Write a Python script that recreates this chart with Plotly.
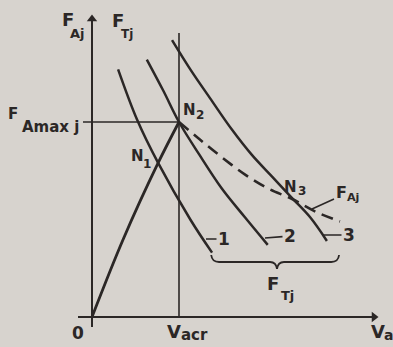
import plotly.graph_objects as go

# Traction / adhesion forces versus speed (units: V_acr = 1, F_Amax j = 1)
v_rise = [0.0, 0.36, 0.76, 1.0]          # adhesion limit F_Aj below V_acr
f_rise = [0.0, 0.40, 0.79, 1.0]

v_aj = [1.0, 1.24, 1.49, 1.76, 2.02, 2.30, 2.57, 2.85]   # adhesion F_Aj above V_acr (dashed)
f_aj = [1.0, 0.91, 0.82, 0.73, 0.66, 0.605, 0.54, 0.49]

v1 = [0.30, 0.52, 0.76, 1.13, 1.38]                        # traction characteristic 1
f1 = [1.27, 1.01, 0.79, 0.50, 0.33]
v2 = [0.63, 0.82, 1.0, 1.23, 1.49, 1.76, 2.02]             # traction characteristic 2
f2 = [1.32, 1.16, 1.0, 0.835, 0.66, 0.51, 0.37]
v3 = [0.92, 1.13, 1.36, 1.61, 1.84, 2.07, 2.30, 2.51, 2.70]  # traction characteristic 3
f3 = [1.42, 1.27, 1.12, 0.96, 0.83, 0.72, 0.61, 0.51, 0.39]

v_acr = 1.0
f_amax = 1.0
nodes = {"N1": (0.76, 0.79), "N2": (1.0, 1.0), "N3": (2.30, 0.61)}
curve_labels = ["1", "2", "3"]

W, H = 393, 347
X0, Y0 = 92, 317          # origin in page pixels
SX, SY = 87.0, 195.0      # pixels per unit

def dx(px):
    return (px - X0) / SX

def dy(py):
    return (Y0 - py) / SY

INK = "#2b2726"
BG = "#d7d3ce"
FONT = "DejaVu Sans"

fig = go.Figure()

def curve(x, y, width=2.5, dash="solid"):
    fig.add_trace(go.Scatter(x=x, y=y, mode="lines", line_shape="spline",
                             line=dict(color=INK, width=width, dash=dash),
                             hoverinfo="skip", showlegend=False))

curve(v_rise, f_rise, width=2.8)
curve(v1, f1)
curve(v2, f2)
curve(v3, f3)
curve(v_aj, f_aj, width=2.6, dash="12px,7px")

# reference lines at V_acr and F_Amax j
fig.add_shape(type="line", x0=v_acr, x1=v_acr, y0=0, y1=dy(33),
              line=dict(color=INK, width=1.6))
fig.add_shape(type="line", x0=dx(83), x1=v_acr, y0=f_amax, y1=f_amax,
              line=dict(color=INK, width=1.6))

# axes: lines plus arrowhead markers at their tips
fig.add_shape(type="line", x0=0, x1=0, y0=dy(327), y1=dy(20),
              line=dict(color=INK, width=2))
fig.add_shape(type="line", x0=dx(78), x1=dx(372), y0=0, y1=0,
              line=dict(color=INK, width=2))
fig.add_trace(go.Scatter(x=[0], y=[dy(19)], mode="markers",
                         marker=dict(symbol="triangle-up", size=9,
                                     color=INK, line=dict(width=0)),
                         hoverinfo="skip", showlegend=False))
fig.add_trace(go.Scatter(x=[dx(374)], y=[0], mode="markers",
                         marker=dict(symbol="triangle-right", size=9,
                                     color=INK, line=dict(width=0)),
                         hoverinfo="skip", showlegend=False))

def text(x, y, s, size, xshift=0, yshift=0, xanchor="center"):
    fig.add_annotation(x=x, y=y, xref="x", yref="y", text=s, showarrow=False,
                       xshift=xshift, yshift=yshift, xanchor=xanchor,
                       font=dict(family=FONT, size=size, color=INK, weight="bold"))

# axis labels
text(dx(68), dy(19), "F", 18)
text(dx(77), dy(33), "Aj", 13)
text(dx(118), dy(20), "F", 18)
text(dx(127), dy(34), "Tj", 12)
text(dx(13), dy(114), "F", 15)
text(dx(50), dy(127), "Amax j", 15)
text(dx(78), dy(333), "0", 17)
text(v_acr, dy(331), "V", 18, xshift=-5)
text(v_acr, dy(335), "acr", 15, xshift=15)
text(dx(369), dy(331), "V", 18, xanchor="left")
text(dx(382), dy(335), "a", 14, xanchor="left")

# operating points
node_offsets = {"N1": ((-21, 7), (-11, -1)),
                "N2": ((10, 12), (21, 7)),
                "N3": ((-2, 11), (10, 7))}
for name, (nx, ny) in nodes.items():
    (ax1, ay1), (ax2, ay2) = node_offsets[name]
    text(nx, ny, "N", 15, xshift=ax1, yshift=ay1)
    text(nx, ny, name[1], 12, xshift=ax2, yshift=ay2)

# leaders to curve numbers and F_Aj
def leader(x, y, s, ax, ay, size=17):
    fig.add_annotation(x=x, y=y, xref="x", yref="y", text=s, showarrow=True,
                       ax=ax, ay=ay, arrowhead=0, arrowwidth=1.6, arrowcolor=INK,
                       standoff=0,
                       font=dict(family=FONT, size=size, color=INK, weight="bold"))

leader(dx(206), dy(239), curve_labels[0], 18, 0)
leader(dx(265), dy(238), curve_labels[1], 25, -2)
leader(dx(323), dy(235), curve_labels[2], 26, 0)
leader(dx(312), dy(209), "F<sub>Aj</sub>", 35, -16, size=16)

# brace grouping the traction characteristics
xl, xr = v1[-1], v3[-1] + 0.13
xm = dx(277)
yb, yt, ytip = dy(262), dy(255), dy(269)
e = 0.08
path = (f"M {xl-0.01},{yt} Q {xl},{yb} {xl+e},{yb} L {xm-e},{yb} "
        f"Q {xm-0.01},{yb} {xm},{ytip} Q {xm+0.01},{yb} {xm+e},{yb} "
        f"L {xr-e},{yb} Q {xr},{yb} {xr+0.01},{yt}")
fig.add_shape(type="path", path=path, xref="x", yref="y",
              line=dict(color=INK, width=1.8))
text(dx(273), dy(283), "F", 18)
text(dx(287), dy(295), "Tj", 13)

fig.update_layout(
    width=W, height=H, margin=dict(l=0, r=0, t=0, b=0),
    paper_bgcolor=BG, plot_bgcolor=BG,
    xaxis=dict(range=[dx(0), dx(W)], visible=False, fixedrange=True),
    yaxis=dict(range=[dy(H), dy(0)], visible=False, fixedrange=True),
    showlegend=False,
)

fig.write_html("out.html")
